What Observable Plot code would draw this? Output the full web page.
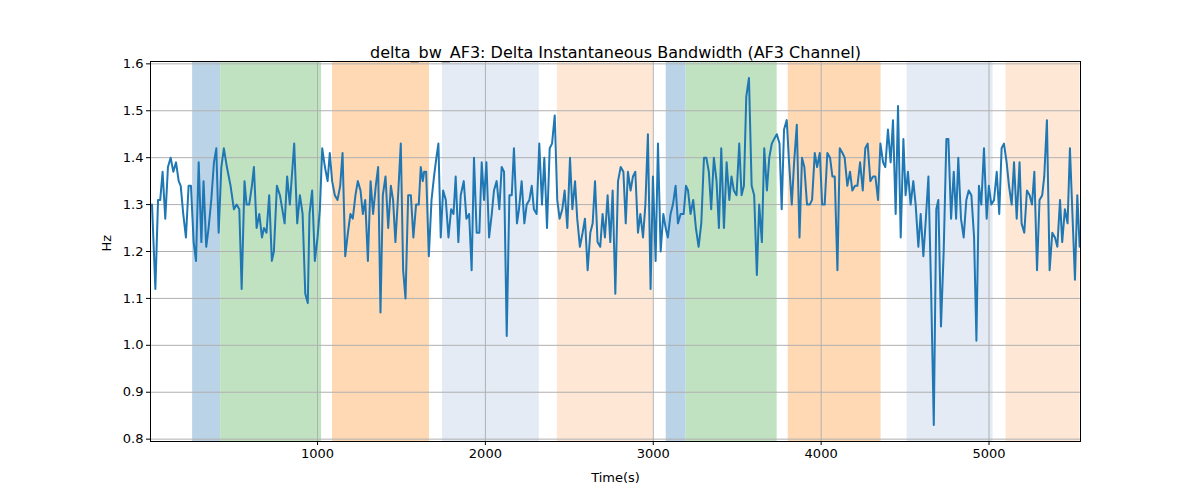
<!DOCTYPE html>
<html>
<head>
<meta charset="utf-8">
<script src="https://cdn.jsdelivr.net/npm/d3@7"></script>
<script src="https://cdn.jsdelivr.net/npm/@observablehq/plot@0.6"></script>
<style>
  body { margin: 0; background: #fff; }
  #chart { width: 1200px; height: 500px; }
</style>
</head>
<body>
<div id="chart"></div>
<script>
  /* ---- Data ---- */
  const title = 'delta_bw_AF3: Delta Instantaneous Bandwidth (AF3 Channel)';

  const bandStart = [256, 423, 1089, 1744, 2429, 3077, 3196, 3804, 4512, 5101];
  const bandEnd   = [423, 1024, 1667, 2321, 3000, 3196, 3738, 4357, 5024, 5542];
  const bandKind  = ['a', 'b', 'c', 'd', 'e', 'a', 'b', 'c', 'd', 'e'];

  const times = [
    14, 34, 50, 63, 77, 93, 109, 125, 141, 157, 173, 185, 200, 216, 232, 246, 262, 276, 292, 308,
    321, 337, 351, 367, 383, 397, 411, 427, 442, 460, 482, 502, 518, 534, 548, 565, 577, 593, 609, 621,
    637, 653, 669, 681, 696, 712, 728, 740, 758, 776, 804, 819, 835, 861, 879, 895, 911, 927, 942,
    952, 968, 984, 1000, 1014, 1028, 1044, 1060, 1073, 1087, 1103, 1119, 1135, 1149, 1165, 1181, 1196,
    1210, 1226, 1240, 1256, 1270, 1284, 1300, 1316, 1331, 1347, 1361, 1375, 1389, 1405, 1421, 1437,
    1450, 1464, 1480, 1496, 1510, 1524, 1540, 1556, 1571, 1587, 1603, 1615, 1627, 1635, 1647, 1663,
    1679, 1694, 1708, 1720, 1734, 1748, 1764, 1780, 1796, 1810, 1823, 1839, 1853, 1871, 1887, 1903,
    1918, 1932, 1948, 1964, 1978, 1992, 2006, 2022, 2038, 2051, 2067, 2083, 2097, 2111, 2127, 2143,
    2157, 2170, 2188, 2200, 2216, 2232, 2246, 2262, 2276, 2289, 2305, 2321, 2337, 2351, 2367, 2383,
    2397, 2413, 2428, 2442, 2458, 2472, 2488, 2504, 2518, 2534, 2547, 2563, 2579, 2593, 2609, 2625,
    2639, 2653, 2668, 2684, 2698, 2712, 2728, 2744, 2758, 2774, 2790, 2806, 2822, 2836, 2849, 2865,
    2879, 2893, 2909, 2923, 2939, 2953, 2968, 2984, 2998, 3014, 3028, 3044, 3060, 3074, 3087, 3103,
    3117, 3133, 3147, 3163, 3181, 3195, 3207, 3222, 3238, 3254, 3270, 3286, 3302, 3316, 3331, 3345,
    3361, 3377, 3391, 3405, 3421, 3437, 3453, 3466, 3480, 3496, 3512, 3526, 3540, 3554, 3570, 3586,
    3601, 3617, 3631, 3647, 3661, 3677, 3691, 3706, 3720, 3736, 3752, 3765, 3779, 3795, 3809, 3825,
    3839, 3855, 3871, 3886, 3900, 3916, 3932, 3946, 3962, 3976, 3992, 4006, 4021, 4037, 4053, 4067,
    4081, 4097, 4111, 4127, 4140, 4156, 4172, 4186, 4202, 4216, 4232, 4248, 4263, 4277, 4293, 4309,
    4323, 4339, 4353, 4369, 4382, 4398, 4414, 4428, 4444, 4458, 4474, 4490, 4503, 4517, 4533, 4549,
    4563, 4579, 4593, 4609, 4622, 4639, 4655, 4671, 4686, 4698, 4714, 4730, 4746, 4758, 4774, 4790,
    4804, 4817, 4833, 4849, 4865, 4879, 4895, 4911, 4925, 4940, 4954, 4970, 4986, 4999, 5014, 5030,
    5046, 5061, 5075, 5089, 5105, 5119, 5135, 5149, 5165, 5182, 5194, 5210, 5226, 5242, 5256, 5270,
    5286, 5301, 5317, 5329, 5345, 5361, 5377, 5393, 5407, 5423, 5436, 5452, 5468, 5482, 5498, 5512,
    5526, 5540
  ];

  const values = [
    1.30, 1.12, 1.31, 1.31, 1.37, 1.27, 1.38, 1.40, 1.37, 1.39, 1.35, 1.34, 1.28, 1.23, 1.34, 1.34, 1.22, 1.18, 1.39, 1.22,
    1.35, 1.21, 1.25, 1.31, 1.39, 1.42, 1.24, 1.38, 1.42, 1.38, 1.34, 1.29, 1.30, 1.29, 1.12, 1.35, 1.30, 1.30, 1.34, 1.38,
    1.25, 1.28, 1.23, 1.25, 1.24, 1.32, 1.18, 1.20, 1.34, 1.32, 1.26, 1.36, 1.30, 1.43, 1.26, 1.32, 1.28, 1.11, 1.09,
    1.28, 1.33, 1.18, 1.23, 1.29, 1.42, 1.38, 1.35, 1.41, 1.35, 1.32, 1.31, 1.34, 1.41, 1.19, 1.24, 1.28,
    1.27, 1.32, 1.35, 1.33, 1.28, 1.31, 1.18, 1.35, 1.28, 1.34, 1.38, 1.07, 1.32, 1.36, 1.25, 1.34,
    1.31, 1.22, 1.32, 1.43, 1.16, 1.10, 1.32, 1.32, 1.23, 1.30, 1.30, 1.38, 1.35, 1.37, 1.37, 1.19,
    1.31, 1.36, 1.40, 1.43, 1.23, 1.33, 1.31, 1.23, 1.29, 1.28, 1.36, 1.22, 1.32, 1.35, 1.27, 1.28,
    1.16, 1.40, 1.24, 1.24, 1.39, 1.31, 1.39, 1.23, 1.28, 1.33, 1.35, 1.29, 1.38, 1.37, 1.02, 1.32,
    1.32, 1.42, 1.26, 1.29, 1.35, 1.26, 1.30, 1.31, 1.34, 1.29, 1.28, 1.43, 1.30, 1.40, 1.25, 1.42,
    1.43, 1.49, 1.31, 1.27, 1.29, 1.33, 1.25, 1.40, 1.29, 1.35, 1.27, 1.21, 1.24, 1.27, 1.16, 1.24,
    1.26, 1.35, 1.22, 1.21, 1.28, 1.23, 1.32, 1.22, 1.33, 1.11, 1.35, 1.38, 1.37, 1.26, 1.37, 1.33,
    1.36, 1.37, 1.24, 1.28, 1.23, 1.30, 1.45, 1.12, 1.36, 1.18, 1.43, 1.20, 1.28, 1.25, 1.23, 1.28,
    1.30, 1.34, 1.26, 1.28, 1.28, 1.34, 1.33, 1.28, 1.31, 1.25, 1.21, 1.26, 1.40, 1.40, 1.37, 1.29,
    1.40, 1.35, 1.25, 1.42, 1.25, 1.39, 1.31, 1.36, 1.33, 1.32, 1.43, 1.32, 1.34, 1.53, 1.57, 1.34,
    1.32, 1.15, 1.30, 1.22, 1.42, 1.33, 1.40, 1.43, 1.44, 1.45, 1.43, 1.29, 1.46, 1.48, 1.39, 1.30,
    1.39, 1.47, 1.23, 1.40, 1.38, 1.30, 1.30, 1.31, 1.41, 1.38, 1.41, 1.30, 1.30, 1.41, 1.40, 1.36,
    1.36, 1.16, 1.42, 1.41, 1.40, 1.34, 1.37, 1.33, 1.34, 1.34, 1.39, 1.33, 1.42, 1.43, 1.35, 1.36,
    1.36, 1.31, 1.43, 1.39, 1.38, 1.46, 1.39, 1.48, 1.28, 1.51, 1.23, 1.44, 1.32, 1.37, 1.30, 1.35,
    1.30, 1.21, 1.28, 1.19, 1.26, 1.36, 1.12, 0.83, 1.29, 1.31, 1.04, 1.20, 1.44, 1.44, 1.27, 1.37,
    1.27, 1.40, 1.27, 1.23, 1.31, 1.33, 1.32, 1.23, 1.01, 1.34, 1.30, 1.42, 1.27, 1.34, 1.30, 1.31,
    1.37, 1.28, 1.42, 1.43, 1.39, 1.34, 1.30, 1.39, 1.27, 1.39, 1.26, 1.24, 1.33, 1.32, 1.30, 1.37,
    1.16, 1.31, 1.32, 1.36, 1.48, 1.16, 1.24, 1.23, 1.21, 1.31, 1.22, 1.29, 1.26, 1.42, 1.27, 1.14,
    1.32, 1.21
  ];

  const yTicks = [0.8, 0.9, 1.0, 1.1, 1.2, 1.3, 1.4, 1.5, 1.6];
  const xTicks = [1000, 2000, 3000, 4000, 5000];

  const series = times.map((t, i) => ({ t, v: values[i] }));
  const bands = bandStart.map((s, i) => ({ s, e: bandEnd[i], kind: bandKind[i] }));

  const chart = Plot.plot({
    width: 1200,
    height: 500,
    marginLeft: 150,
    marginRight: 120,
    marginTop: 61,
    marginBottom: 59,
    style: {
      background: '#fff',
      fontFamily: "'DejaVu Sans', sans-serif",
      fontSize: '13px',
      color: '#000'
    },
    x: { domain: [5, 5545], label: null },
    y: { domain: [0.795, 1.605], label: null },
    color: {
      domain: ['a', 'b', 'c', 'd', 'e'],
      range: ['#bad3e7', '#c0e2c0', '#ffd8b4', '#e4ebf5', '#fee8d5']
    },
    marks: [
      Plot.rectY(bands, { x1: 's', x2: 'e', y1: 0.795, y2: 1.605, fill: 'kind' }),
      Plot.gridX(xTicks, { stroke: '#b0b0b0', strokeOpacity: 1, strokeWidth: 1 }),
      Plot.gridY(yTicks, { stroke: '#b0b0b0', strokeOpacity: 1, strokeWidth: 1 }),
      Plot.line(series, { x: 't', y: 'v', stroke: '#1f77b4', strokeWidth: 2 }),
      Plot.frame({ stroke: '#000', strokeWidth: 1 }),
      Plot.axisX({ ticks: xTicks, tickSize: 4, tickPadding: 3, tickFormat: d => String(d), fontSize: 13 }),
      Plot.axisY({ ticks: yTicks, tickSize: 4, tickPadding: 3, tickFormat: d => d.toFixed(1), fontSize: 13 }),
      Plot.text([title], { frameAnchor: 'top', dy: -15, fontSize: 16, fill: '#000' }),
      Plot.text(['Time(s)'], { frameAnchor: 'bottom', dy: 40, fontSize: 13, fill: '#000' }),
      Plot.text(['Hz'], { frameAnchor: 'left', dx: -44, rotate: -90, fontSize: 13, fill: '#000' })
    ]
  });

  document.getElementById('chart').appendChild(chart);
</script>
</body>
</html>
